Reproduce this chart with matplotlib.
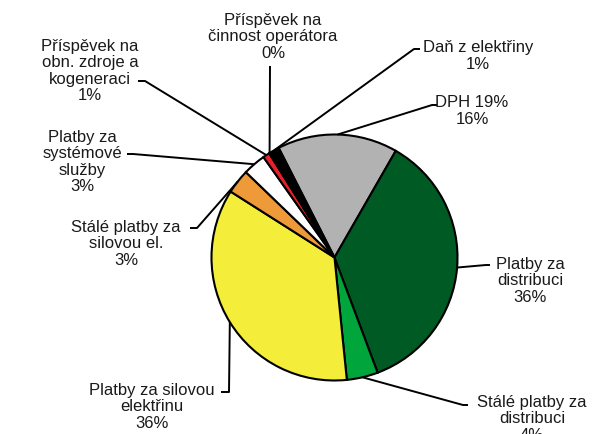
import numpy as np
import matplotlib.pyplot as plt

plt.rcParams['font.family'] = ['Liberation Sans', 'DejaVu Sans']

# podíly jednotlivých složek ceny elektřiny (po směru hodinových ručiček od DPH)
names = ['DPH 19%', 'Platby za\ndistribuci', 'Stálé platby za\ndistribuci',
         'Platby za silovou\nelektřinu', 'Stálé platby za\nsilovou el.',
         'Platby za\nsystémové\nslužby', 'Příspěvek na\nobn. zdroje a\nkogeneraci',
         'Příspěvek na\nčinnost operátora', 'Daň z elektřiny']
shares = [15.8, 36.0, 4.1, 35.6, 3.2, 3.0, 0.9, 0.1, 1.3]
colors = ['#b2b2b2', '#005a23', '#00a63c', '#f4ee3a', '#ee9a38',
          '#ffffff', '#e8202a', '#ffffff', '#000000']

# umístění popisků v pixelech (střed textu, konec vodící čáry u textu, lom)
text_xy = [(472, 111), (530, 281), (532, 419), (152, 407), (126, 244),
           (82, 162), (90, 71), (273, 37), (478, 56)]
line_start = [(437, 106), (490, 266), (468, 406), (221, 393), (190, 229),
              (127, 155), (138, 82), (270, 67), (420, 50)]
line_elbow = [(432, 106), (486, 266), (463, 406), (229, 393), (197, 229),
              (133, 155), (145, 82), (270, 67), (414, 50)]

W, H = 608, 435
cx, cy, r = 334.5, 258.5, 123

fig = plt.figure(figsize=(W / 100, H / 100), dpi=100)
ax = fig.add_axes([0, 0, 1, 1])
wedges, _ = ax.pie(shares, colors=colors, center=(cx, cy), radius=r,
                   startangle=-117, counterclock=True,
                   wedgeprops={'edgecolor': 'black', 'linewidth': 1.5})
ax.set_xlim(0, W)
ax.set_ylim(H, 0)
ax.set_aspect('equal')
ax.axis('off')

for i, w in enumerate(wedges):
    mid = np.deg2rad((w.theta1 + w.theta2) / 2)
    ax_x = cx + r * np.cos(mid)
    ax_y = cy + r * np.sin(mid)
    xs = [line_start[i][0], line_elbow[i][0], ax_x]
    ys = [line_start[i][1], line_elbow[i][1], ax_y]
    ax.plot(xs, ys, color='black', linewidth=1.4, solid_capstyle='butt')
    txt = '%s\n%.0f%%' % (names[i], shares[i])
    ax.text(text_xy[i][0], text_xy[i][1], txt, ha='center', va='center',
            multialignment='center', fontsize=12, linespacing=1.1,
            color='#1a1a1a')

plt.savefig('out.png', dpi=100)
